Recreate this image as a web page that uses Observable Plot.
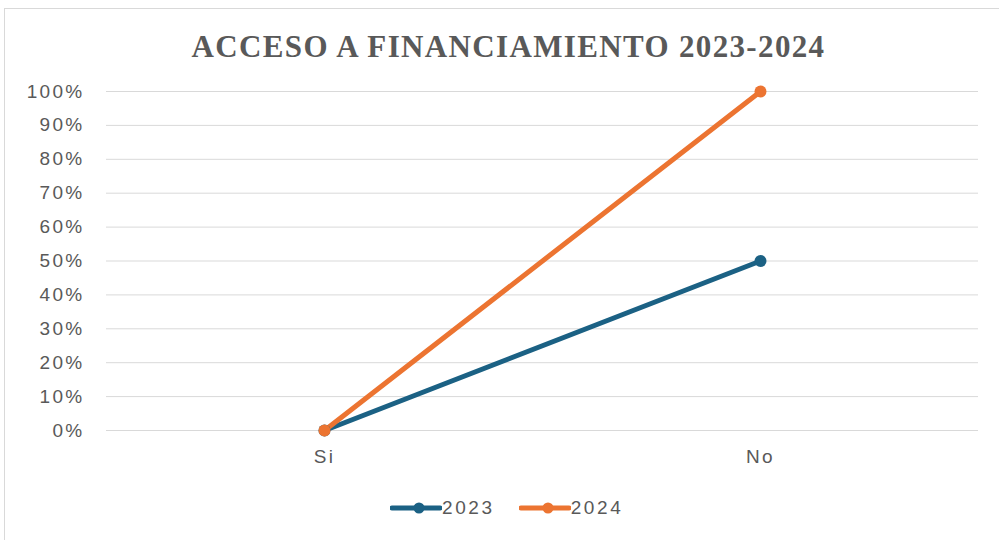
<!DOCTYPE html>
<html>
<head>
<meta charset="utf-8">
<script src="https://cdn.jsdelivr.net/npm/d3@7"></script>
<script src="https://cdn.jsdelivr.net/npm/@observablehq/plot@0.6"></script>
<style>
  html, body { margin: 0; padding: 0; background: #fff; }
  body { width: 999px; height: 540px; overflow: hidden; position: relative; font-family: "Liberation Sans", Arial, sans-serif; }
  #frame { position: absolute; left: 4px; top: 8px; width: 1000px; height: 540px; border: 1px solid #d9d9d9; box-sizing: border-box; pointer-events: none; }
  #title { position: relative; height: 72px; box-sizing: border-box; padding-top: 30px; line-height: 34px; text-align: center; padding-left: 18px;
           font-family: "Liberation Serif", "Times New Roman", serif; font-weight: bold; font-size: 31px; letter-spacing: 1.35px; color: #595959; }
  #chart { position: relative; height: 400px; }
  #legend { position: relative; height: 24px; margin-top: 24px; display: flex; align-items: center; padding-left: 390px;
            font-size: 19px; letter-spacing: 2.6px; color: #595959; }
  .item { display: flex; align-items: center; margin-right: 24px; }
  .item svg { display: block; }
</style>
</head>
<body>
<div id="frame"></div>
<div id="title">ACCESO A FINANCIAMIENTO 2023-2024</div>
<div id="chart"></div>
<div id="legend"></div>
<script>
const categories = ["Si", "No"];
const series = ["2023", "2024"];
const values2023 = [0, 0.5];
const values2024 = [0, 1];
const yTicks = [0, 0.1, 0.2, 0.3, 0.4, 0.5, 0.6, 0.7, 0.8, 0.9, 1];
const colors = ["#1b6184", "#ec7431"];

const rows = [];
categories.forEach((c, i) => {
  rows.push({category: c, series: "2023", value: values2023[i]});
  rows.push({category: c, series: "2024", value: values2024[i]});
});

const chart = Plot.plot({
  width: 999,
  height: 400,
  marginTop: 19,
  marginBottom: 42,
  marginLeft: 106,
  marginRight: 21,
  style: { fontFamily: "'Liberation Sans', Arial, sans-serif", fontSize: "19px", color: "#595959", background: "transparent", letterSpacing: "2.3px" },
  x: { type: "point", domain: categories, padding: 0.5, label: null, tickSize: 0, tickPadding: 19 },
  y: { domain: [0, 1], ticks: yTicks, tickFormat: d3.format(".0%"), label: null, tickSize: 0, tickPadding: 22 },
  color: { domain: series, range: colors },
  marks: [
    Plot.gridY(yTicks, { stroke: "#d9d9d9", strokeOpacity: 1, strokeWidth: 1 }),
    ...series.map(s => Plot.line(rows.filter(d => d.series === s), { x: "category", y: "value", stroke: "series", strokeWidth: 5, strokeLinecap: "round" })),
    ...series.map(s => Plot.dot(rows.filter(d => d.series === s), { x: "category", y: "value", fill: "series", r: 6 }))
  ]
});
chart.querySelectorAll("g[aria-label='y-axis tick label'] text, g[aria-label='x-axis tick label'] text").forEach(t => t.setAttribute("fill", "#595959"));
document.getElementById("chart").appendChild(chart);

const legend = d3.select("#legend");
series.forEach((s, i) => {
  const item = legend.append("div").attr("class", "item");
  const sw = item.append("svg").attr("width", 52).attr("height", 14);
  sw.append("line").attr("x1", 2).attr("x2", 50).attr("y1", 7).attr("y2", 7)
    .attr("stroke", colors[i]).attr("stroke-width", 5).attr("stroke-linecap", "round");
  sw.append("circle").attr("cx", 29).attr("cy", 7).attr("r", 5.5).attr("fill", colors[i]);
  item.append("span").text(s);
});
</script>
</body>
</html>
